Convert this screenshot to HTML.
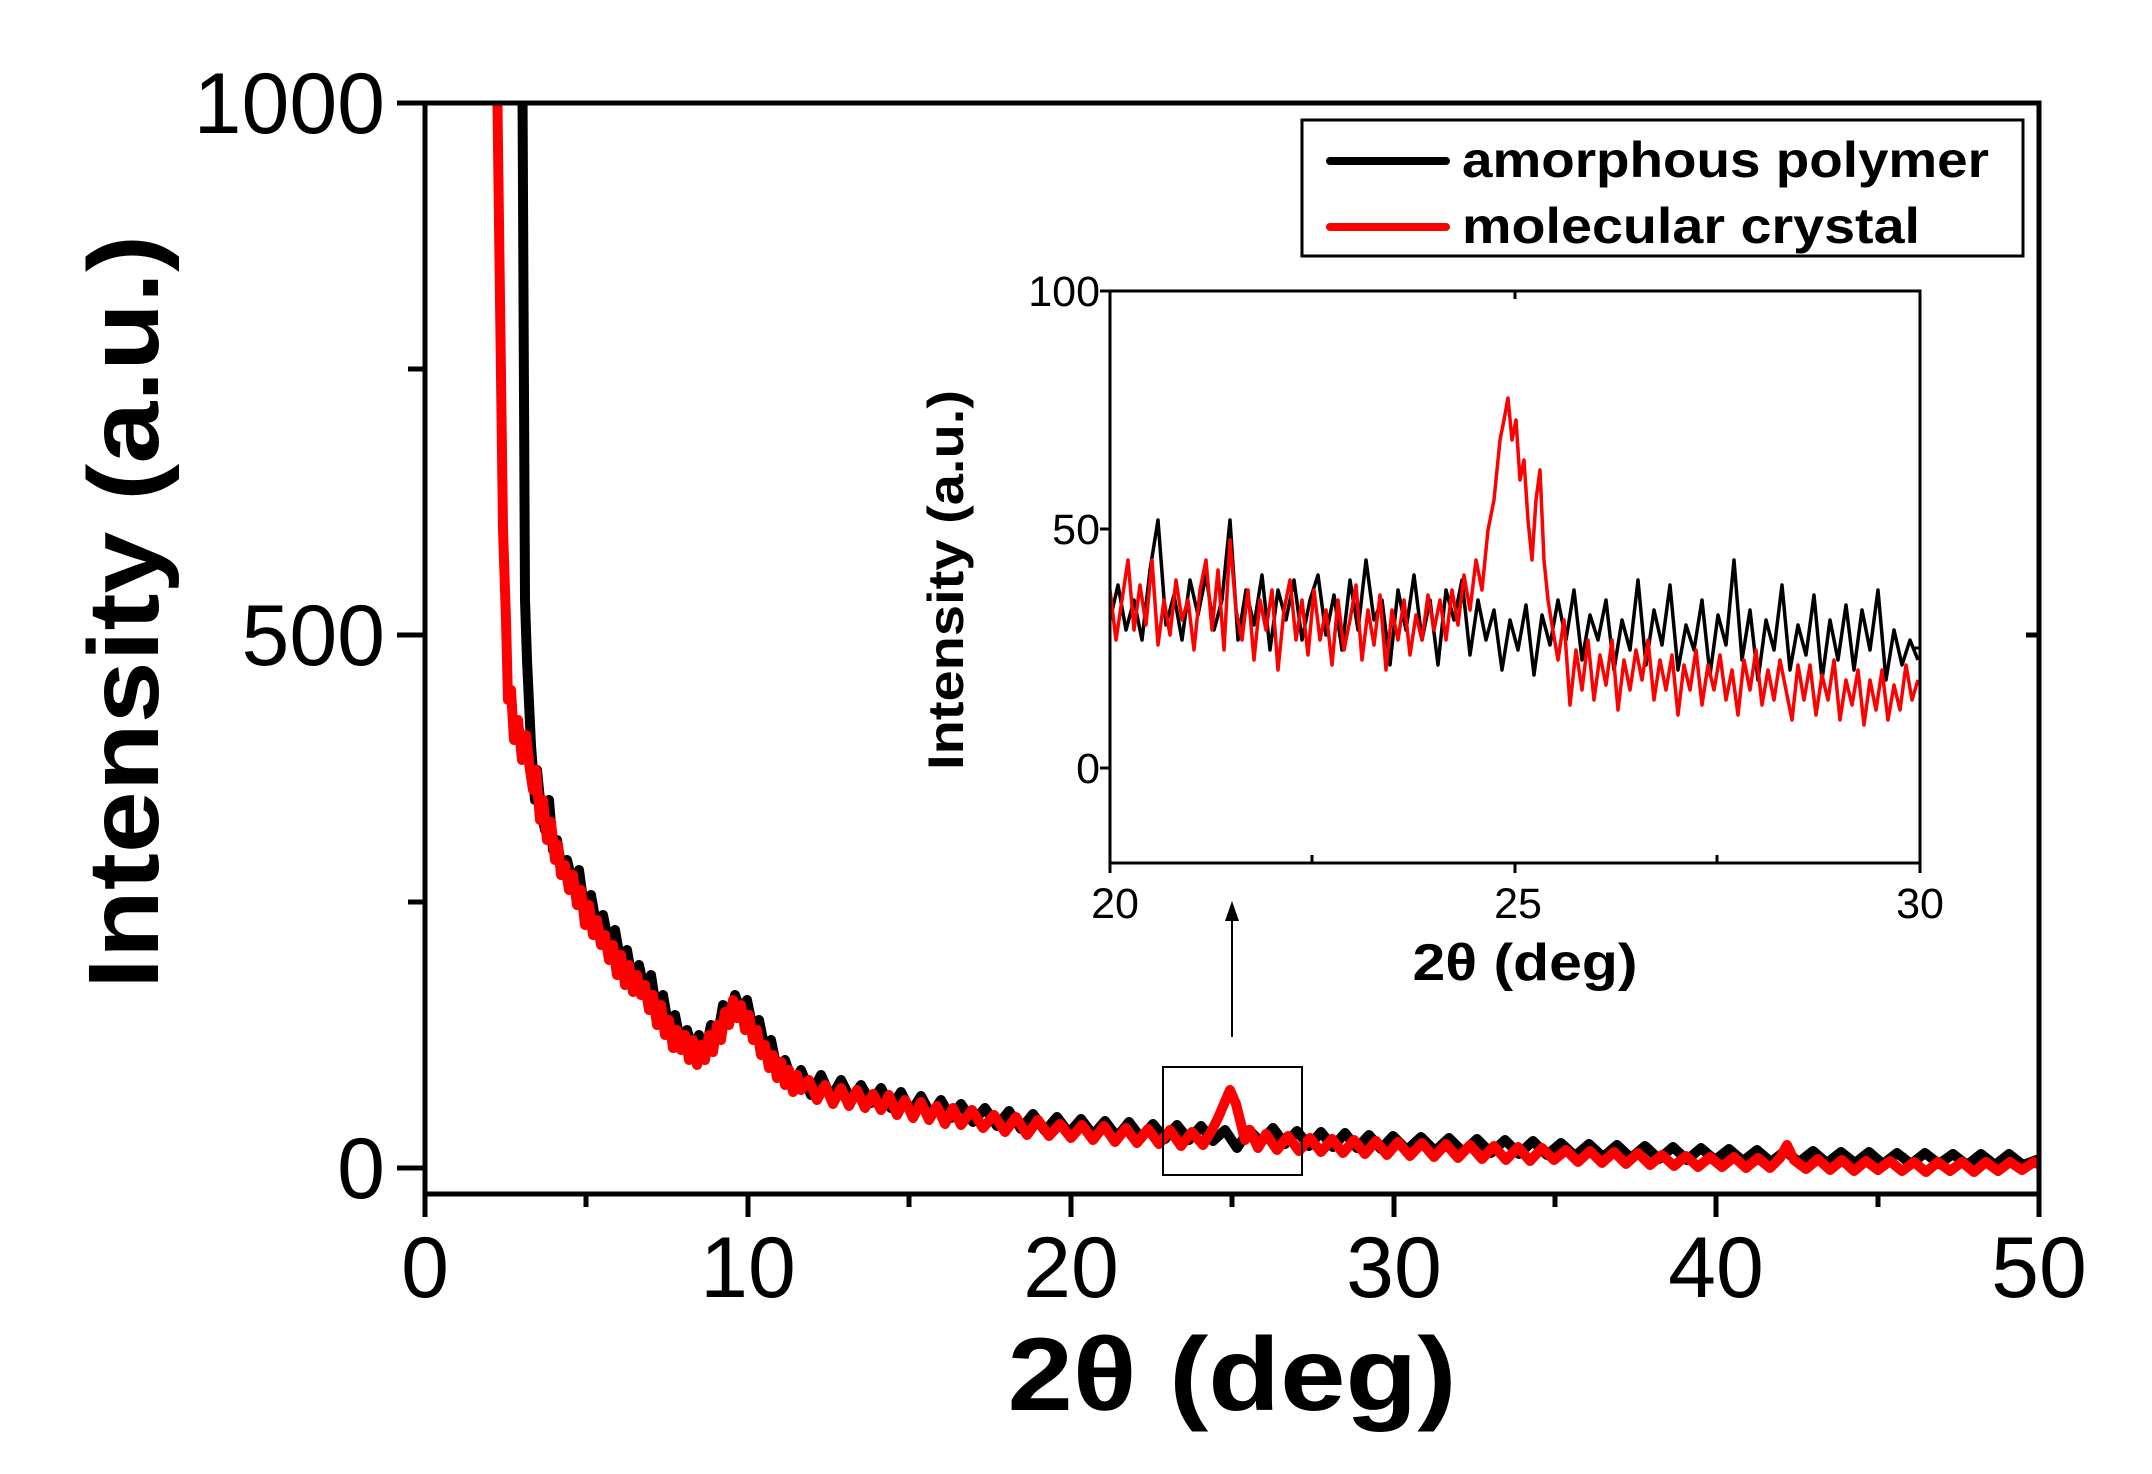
<!DOCTYPE html>
<html><head><meta charset="utf-8"><style>
html,body{margin:0;padding:0;background:#fff;}
svg{display:block;font-family:"Liberation Sans",Arial,sans-serif;}
</style></head><body>
<svg width="2152" height="1474" viewBox="0 0 2152 1474" xmlns="http://www.w3.org/2000/svg">
<defs>
<clipPath id="mc"><rect x="425" y="103" width="1614" height="1091"/></clipPath>
<clipPath id="ic"><rect x="1110" y="291" width="810" height="572"/></clipPath>
</defs>
<g clip-path="url(#mc)" fill="none" stroke-width="10" stroke-linejoin="round">
<path stroke="#000" d="M517,-10 L522,-10 L525,600 L527,660 L531,745 L535,800 L537,770 L541,810 L545,830 L549,800 L553,850 L557,840 L561,865 L567,860 L573,885 L579,870 L585,915 L591,895 L597,930 L603,915 L609,945 L615,930 L621,965 L627,950 L633,985 L639,965 L645,995 L651,975 L657,1015 L663,995 L669,1030 L675,1015 L681,1045 L687,1030 L693,1050 L699,1035 L705,1055 L711,1025 L717,1040 L723,1005 L729,1020 L735,995 L741,1012 L747,1000 L753,1030 L759,1020 L765,1050 L771,1040 L777,1070 L785,1060 L793,1085 L801,1070 L811,1095 L821,1075 L831,1098 L841,1080 L851,1100 L861,1085 L871,1103 L881,1088 L891,1108 L901,1092 L911,1112 L921,1096 L931,1115 L941,1100 L951,1118 L961,1104 L973,1122 L985,1108 L997,1126 L1009,1111 L1021,1129 L1033,1114 L1045,1131 L1057,1117 L1069,1133 L1081,1119 L1093,1135 L1105,1121 L1117,1137 L1129,1122 L1141,1138 L1153,1124 L1165,1139 L1177,1125 L1189,1140 L1201,1126 L1213,1141 L1225,1130 L1237,1148 L1249,1130 L1261,1142 L1273,1128 L1285,1144 L1297,1131 L1309,1146 L1321,1132 L1333,1147 L1345,1133 L1357,1148 L1369,1135 L1381,1149 L1393,1136 L1407,1150 L1421,1137 L1435,1151 L1449,1138 L1463,1152 L1477,1139 L1491,1153 L1505,1140 L1519,1154 L1533,1141 L1547,1155 L1561,1143 L1575,1156 L1589,1144 L1603,1157 L1617,1145 L1631,1158 L1645,1146 L1659,1159 L1673,1147 L1687,1160 L1701,1148 L1715,1160 L1729,1149 L1743,1161 L1757,1150 L1771,1162 L1785,1151 L1799,1162 L1813,1151 L1827,1163 L1841,1152 L1855,1163 L1869,1152 L1883,1164 L1897,1153 L1911,1164 L1925,1153 L1939,1164 L1953,1154 L1967,1165 L1981,1154 L1995,1165 L2009,1154 L2023,1165 L2042,1158"/>
<path stroke="#f00" d="M489,-10 L496,-10 L500,300 L503,529 L506,620 L508,700 L511,690 L514,740 L518,720 L522,760 L526,735 L530,770 L533,790 L536,770 L540,820 L543,800 L547,840 L551,822 L555,860 L558,845 L561,875 L565,865 L569,890 L573,875 L577,905 L581,890 L585,925 L589,905 L593,935 L597,920 L601,945 L605,935 L609,960 L613,945 L617,975 L621,955 L625,985 L629,965 L633,992 L637,975 L641,995 L645,985 L649,1010 L653,995 L657,1025 L661,1005 L665,1035 L669,1020 L673,1048 L677,1030 L681,1050 L685,1035 L689,1060 L693,1040 L697,1065 L701,1045 L705,1060 L709,1035 L713,1052 L717,1025 L721,1040 L725,1012 L729,1025 L733,1000 L737,1018 L741,1005 L745,1030 L749,1015 L753,1040 L757,1030 L761,1055 L765,1045 L769,1068 L773,1055 L777,1078 L781,1062 L785,1085 L789,1070 L793,1092 L797,1075 L801,1090 L809,1080 L817,1100 L825,1085 L833,1104 L841,1088 L849,1106 L857,1090 L865,1108 L873,1094 L881,1110 L889,1095 L897,1115 L905,1100 L913,1118 L921,1102 L929,1120 L937,1106 L945,1124 L953,1108 L961,1125 L972,1110 L983,1128 L994,1115 L1005,1132 L1016,1117 L1027,1135 L1038,1120 L1049,1136 L1060,1124 L1071,1138 L1082,1125 L1093,1140 L1104,1126 L1115,1142 L1126,1128 L1137,1143 L1148,1129 L1159,1144 L1170,1130 L1181,1146 L1192,1132 L1203,1145 L1212,1130 L1218,1118 L1224,1104 L1230,1090 L1236,1104 L1240,1120 L1245,1140 L1250,1130 L1258,1148 L1266,1134 L1277,1150 L1288,1136 L1299,1151 L1310,1138 L1321,1152 L1332,1139 L1343,1153 L1354,1140 L1365,1154 L1376,1141 L1387,1155 L1398,1142 L1410,1156 L1422,1143 L1434,1157 L1446,1144 L1458,1158 L1470,1145 L1482,1159 L1494,1146 L1506,1160 L1518,1147 L1530,1161 L1542,1148 L1554,1160 L1566,1150 L1578,1162 L1590,1151 L1602,1163 L1614,1152 L1626,1164 L1638,1153 L1650,1165 L1662,1155 L1674,1166 L1686,1156 L1698,1167 L1710,1157 L1722,1167 L1734,1157 L1746,1168 L1758,1158 L1770,1168 L1780,1158 L1787,1145 L1794,1160 L1806,1169 L1818,1159 L1830,1170 L1842,1160 L1854,1171 L1866,1161 L1878,1170 L1890,1161 L1902,1171 L1914,1162 L1926,1172 L1938,1162 L1950,1171 L1962,1162 L1974,1172 L1986,1162 L1998,1171 L2010,1162 L2022,1170 L2034,1162 L2042,1166"/>
</g>
<rect x="425" y="103" width="1614" height="1091" fill="none" stroke="#000" stroke-width="5"/>
<g stroke="#000" stroke-width="5">
<line x1="397" y1="103" x2="425" y2="103"/>
<line x1="397" y1="635" x2="425" y2="635"/>
<line x1="397" y1="1168" x2="425" y2="1168"/>
<line x1="408" y1="369" x2="425" y2="369"/>
<line x1="408" y1="902" x2="425" y2="902"/>
<line x1="425" y1="1194" x2="425" y2="1217"/>
<line x1="748" y1="1194" x2="748" y2="1217"/>
<line x1="1071" y1="1194" x2="1071" y2="1217"/>
<line x1="1394" y1="1194" x2="1394" y2="1217"/>
<line x1="1716" y1="1194" x2="1716" y2="1217"/>
<line x1="2039" y1="1194" x2="2039" y2="1217"/>
<line x1="586" y1="1194" x2="586" y2="1207"/>
<line x1="909" y1="1194" x2="909" y2="1207"/>
<line x1="1232" y1="1194" x2="1232" y2="1207"/>
<line x1="1555" y1="1194" x2="1555" y2="1207"/>
<line x1="1878" y1="1194" x2="1878" y2="1207"/>
<line x1="2039" y1="635" x2="2026" y2="635"/>
</g>
<g font-size="86" text-anchor="end" fill="#000">
<text x="385" y="133">1000</text>
<text x="385" y="665">500</text>
<text x="385" y="1198">0</text>
</g>
<g font-size="86" text-anchor="middle" fill="#000">
<text x="425" y="1297">0</text>
<text x="748" y="1297">10</text>
<text x="1071" y="1297">20</text>
<text x="1394" y="1297">30</text>
<text x="1716" y="1297">40</text>
<text x="2039" y="1297">50</text>
</g>
<text x="1232" y="1410" font-size="104" font-weight="bold" text-anchor="middle" textLength="449" lengthAdjust="spacingAndGlyphs">2θ (deg)</text>
<text transform="translate(158,612) rotate(-90)" font-size="100" font-weight="bold" text-anchor="middle" textLength="754" lengthAdjust="spacingAndGlyphs">Intensity (a.u.)</text>
<rect x="1302" y="120" width="721" height="136" fill="#fff" stroke="#000" stroke-width="3"/>
<line x1="1330" y1="161" x2="1446" y2="161" stroke="#000" stroke-width="8" stroke-linecap="round"/>
<line x1="1330" y1="227" x2="1446" y2="227" stroke="#f00" stroke-width="8" stroke-linecap="round"/>
<text x="1462" y="177" font-size="50" font-weight="bold" textLength="527" lengthAdjust="spacingAndGlyphs">amorphous polymer</text>
<text x="1462" y="243" font-size="50" font-weight="bold" textLength="458" lengthAdjust="spacingAndGlyphs">molecular crystal</text>
<rect x="1163" y="1067" width="139" height="108" fill="none" stroke="#000" stroke-width="2"/>
<line x1="1232" y1="1037" x2="1232" y2="918" stroke="#000" stroke-width="2"/>
<polygon points="1232,901 1225,921 1239,921" fill="#000"/>
<g clip-path="url(#ic)" fill="none" stroke-width="3.5" stroke-linejoin="round">
<path stroke="#000" d="M1110,620 L1118,585 L1126,630 L1134,600 L1142,640 L1150,570 L1158,520 L1166,625 L1174,595 L1182,640 L1190,580 L1198,615 L1206,575 L1214,630 L1222,600 L1230,520 L1238,640 L1246,590 L1254,625 L1262,575 L1270,650 L1278,590 L1286,620 L1294,580 L1302,640 L1310,600 L1318,575 L1326,635 L1334,595 L1342,650 L1350,580 L1358,630 L1366,560 L1374,620 L1382,600 L1390,665 L1398,590 L1406,630 L1414,575 L1422,640 L1430,600 L1438,665 L1446,590 L1454,620 L1462,580 L1470,655 L1478,600 L1486,640 L1494,610 L1502,670 L1510,620 L1518,650 L1526,605 L1534,675 L1542,615 L1550,645 L1558,600 L1566,640 L1574,590 L1582,660 L1590,615 L1598,640 L1606,600 L1614,670 L1622,620 L1630,650 L1638,580 L1646,665 L1654,610 L1662,645 L1670,585 L1678,670 L1686,625 L1694,650 L1702,600 L1710,675 L1718,615 L1726,645 L1734,560 L1742,660 L1750,610 L1758,680 L1766,620 L1774,650 L1782,585 L1790,670 L1798,625 L1806,655 L1814,595 L1822,680 L1830,620 L1838,660 L1846,605 L1854,670 L1862,610 L1870,650 L1878,590 L1886,680 L1894,630 L1902,665 L1910,640 L1918,660"/>
<path stroke="#f00" d="M1110,590 L1116,640 L1122,600 L1128,560 L1134,630 L1140,585 L1146,625 L1152,560 L1158,645 L1164,600 L1170,635 L1176,580 L1182,620 L1188,600 L1194,650 L1200,590 L1206,560 L1212,630 L1218,570 L1224,650 L1230,540 L1236,610 L1242,640 L1248,590 L1254,660 L1260,600 L1266,630 L1272,590 L1278,670 L1284,610 L1290,580 L1296,640 L1302,600 L1308,655 L1314,590 L1320,640 L1326,610 L1332,665 L1338,600 L1344,650 L1350,620 L1356,585 L1362,660 L1368,610 L1374,645 L1380,595 L1386,670 L1392,610 L1398,640 L1404,600 L1410,655 L1416,615 L1422,640 L1428,595 L1434,630 L1440,600 L1446,640 L1452,590 L1458,625 L1464,575 L1470,610 L1476,560 L1482,590 L1488,530 L1494,500 L1500,440 L1504,420 L1508,398 L1512,440 L1516,420 L1520,480 L1524,460 L1528,520 L1532,560 L1536,500 L1540,470 L1544,560 L1548,600 L1552,625 L1558,660 L1564,620 L1570,705 L1576,650 L1582,690 L1588,640 L1594,700 L1600,655 L1606,685 L1612,640 L1618,710 L1624,660 L1630,690 L1636,650 L1642,680 L1648,640 L1654,700 L1660,660 L1666,690 L1672,655 L1678,715 L1684,665 L1690,690 L1696,650 L1702,705 L1708,665 L1714,690 L1720,655 L1726,700 L1732,670 L1738,715 L1744,660 L1750,690 L1756,650 L1762,705 L1768,670 L1774,700 L1780,660 L1786,690 L1792,720 L1798,665 L1804,700 L1810,665 L1816,715 L1822,675 L1828,700 L1834,660 L1840,720 L1846,680 L1852,705 L1858,670 L1864,725 L1870,680 L1876,710 L1882,670 L1888,720 L1894,685 L1900,710 L1906,665 L1912,700 L1918,680"/>
</g>
<rect x="1110" y="291" width="810" height="572" fill="none" stroke="#000" stroke-width="3"/>
<g stroke="#000" stroke-width="3">
<line x1="1100" y1="291" x2="1110" y2="291"/>
<line x1="1100" y1="529" x2="1110" y2="529"/>
<line x1="1100" y1="768" x2="1110" y2="768"/>
<line x1="1110" y1="863" x2="1110" y2="873"/>
<line x1="1515" y1="863" x2="1515" y2="873"/>
<line x1="1920" y1="863" x2="1920" y2="873"/>
<line x1="1312" y1="863" x2="1312" y2="855"/>
<line x1="1717" y1="863" x2="1717" y2="855"/>
<line x1="1920" y1="648" x2="1912" y2="648"/>
<line x1="1515" y1="291" x2="1515" y2="299"/>
</g>
<g font-size="43" text-anchor="end">
<text x="1100" y="306">100</text>
<text x="1100" y="544">50</text>
<text x="1100" y="783">0</text>
</g>
<g font-size="43" text-anchor="middle">
<text x="1115" y="918">20</text>
<text x="1518" y="918">25</text>
<text x="1920" y="918">30</text>
</g>
<text x="1525" y="980" font-size="52" font-weight="bold" text-anchor="middle" textLength="225" lengthAdjust="spacingAndGlyphs">2θ (deg)</text>
<text transform="translate(963,580) rotate(-90)" font-size="50" font-weight="bold" text-anchor="middle" textLength="380" lengthAdjust="spacingAndGlyphs">Intensity (a.u.)</text>
</svg>
</body></html>
